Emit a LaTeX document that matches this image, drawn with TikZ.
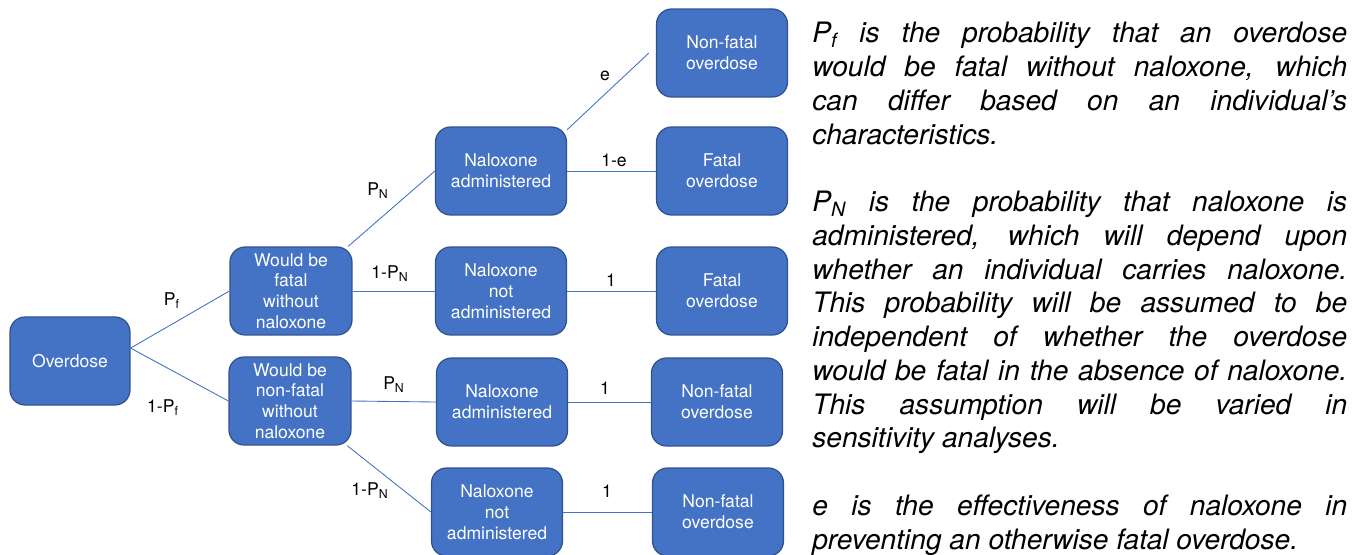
\documentclass[tikz,border=0pt]{standalone}
\usepackage{fontspec}
\setmainfont{TeX Gyre Heros}
\usetikzlibrary{shapes.geometric, arrows, shapes}
\definecolor{boxblue}{HTML}{4472C4}
\definecolor{boxedge}{HTML}{2F528F}
\tolerance=10000
\hyphenpenalty=10000
\exhyphenpenalty=10000
\tikzstyle{event} = [rectangle, rounded corners=0.3cm, minimum width=2.44cm, minimum height=1.76cm, align=center, draw=boxedge, fill=boxblue, text=white, line width=0.7pt, inner sep=1pt, font=\fontsize{10}{11.8}\selectfont]
\tikzstyle{outcome} = [event, minimum width=2.62cm]
\tikzstyle{branch} = [draw=boxblue, line width=0.5pt]
\tikzstyle{prob} = [inner sep=0pt, font=\fontsize{10}{12}\selectfont]
\tikzstyle{note} = [anchor=base west, inner sep=0pt, text width=10.7cm, align=justify, font=\itshape\fontsize{16}{19.2}\selectfont]

\begin{document}
\begin{tikzpicture}[x=0.02cm, y=-0.02cm]
\useasboundingbox (0,0) rectangle (1361,554);

\node at (70, 361) (overdose) [event, minimum width=2.4cm] {Overdose};
\node at (291, 291) (fatal) [event] {Would be\\fatal\\without\\naloxone};
\node at (290, 401) (nonfatal) [event] {Would be\\non-fatal\\without\\naloxone};

\node at (501, 171) (admA) [outcome] {Naloxone\\administered};
\node at (501, 291) (notA) [outcome] {Naloxone\\not\\administered};
\node at (502, 402) (admB) [outcome] {Naloxone\\administered};
\node at (497, 512) (notB) [outcome] {Naloxone\\not\\administered};

\node at (722, 53) (savedA) [outcome] {Non-fatal\\overdose};
\node at (722, 171) (deathA) [outcome] {Fatal\\overdose};
\node at (722, 291) (deathB) [outcome] {Fatal\\overdose};
\node at (717, 402) (savedB) [outcome] {Non-fatal\\overdose};
\node at (718, 512) (savedC) [outcome] {Non-fatal\\overdose};

\draw [branch] (overdose.12) -- (fatal.west);
\draw [branch] (overdose.12) -- (nonfatal.west);
\draw [branch] (fatal.38) -- (admA.west);
\draw [branch] (fatal.east) -- (notA.west);
\draw [branch] (nonfatal.east) -- (admB.west);
\draw [branch] (nonfatal.-38) -- (notB.west);
\draw [branch] (admA.32) -- ([xshift=-4]savedA.west);
\draw [branch] (admA.east) -- (deathA.west);
\draw [branch] (notA.east) -- (deathB.west);
\draw [branch] (admB.east) -- (savedB.west);
\draw [branch] (notB.east) -- (savedC.west);

\node at (172, 301) (pf) [prob] {P\textsubscript{f}};
\node at (163, 408) (qf) [prob] {1-P\textsubscript{f}};
\node at (378, 191) (pnA) [prob] {P\textsubscript{N}};
\node at (390, 274) (qnA) [prob] {1-P\textsubscript{N}};
\node at (394, 385) (pnB) [prob] {P\textsubscript{N}};
\node at (370, 491) (qnB) [prob] {1-P\textsubscript{N}};
\node at (605, 76) (eff) [prob] {e};
\node at (614, 160) (ineff) [prob] {1-e};
\node at (611, 280) (oneA) [prob] {1};
\node at (605, 388) (oneB) [prob] {1};
\node at (607, 491) (oneC) [prob] {1};

\node at (812, 43) (notes) [note] {P\textsubscript{f} is the probability that an overdose\linebreak would be fatal without naloxone, which\linebreak can differ based on an individual’s\linebreak characteristics.\par\vspace{\baselineskip}%
P\textsubscript{N} is the probability that naloxone is\linebreak administered, which will depend upon\linebreak whether an individual carries naloxone.\linebreak This probability will be assumed to be\linebreak independent of whether the overdose\linebreak would be fatal in the absence of naloxone.\linebreak This assumption will be varied in\linebreak sensitivity analyses.\par\vspace{\baselineskip}%
e is the effectiveness of naloxone in\linebreak preventing an otherwise fatal overdose.};

\end{tikzpicture}
\end{document}
